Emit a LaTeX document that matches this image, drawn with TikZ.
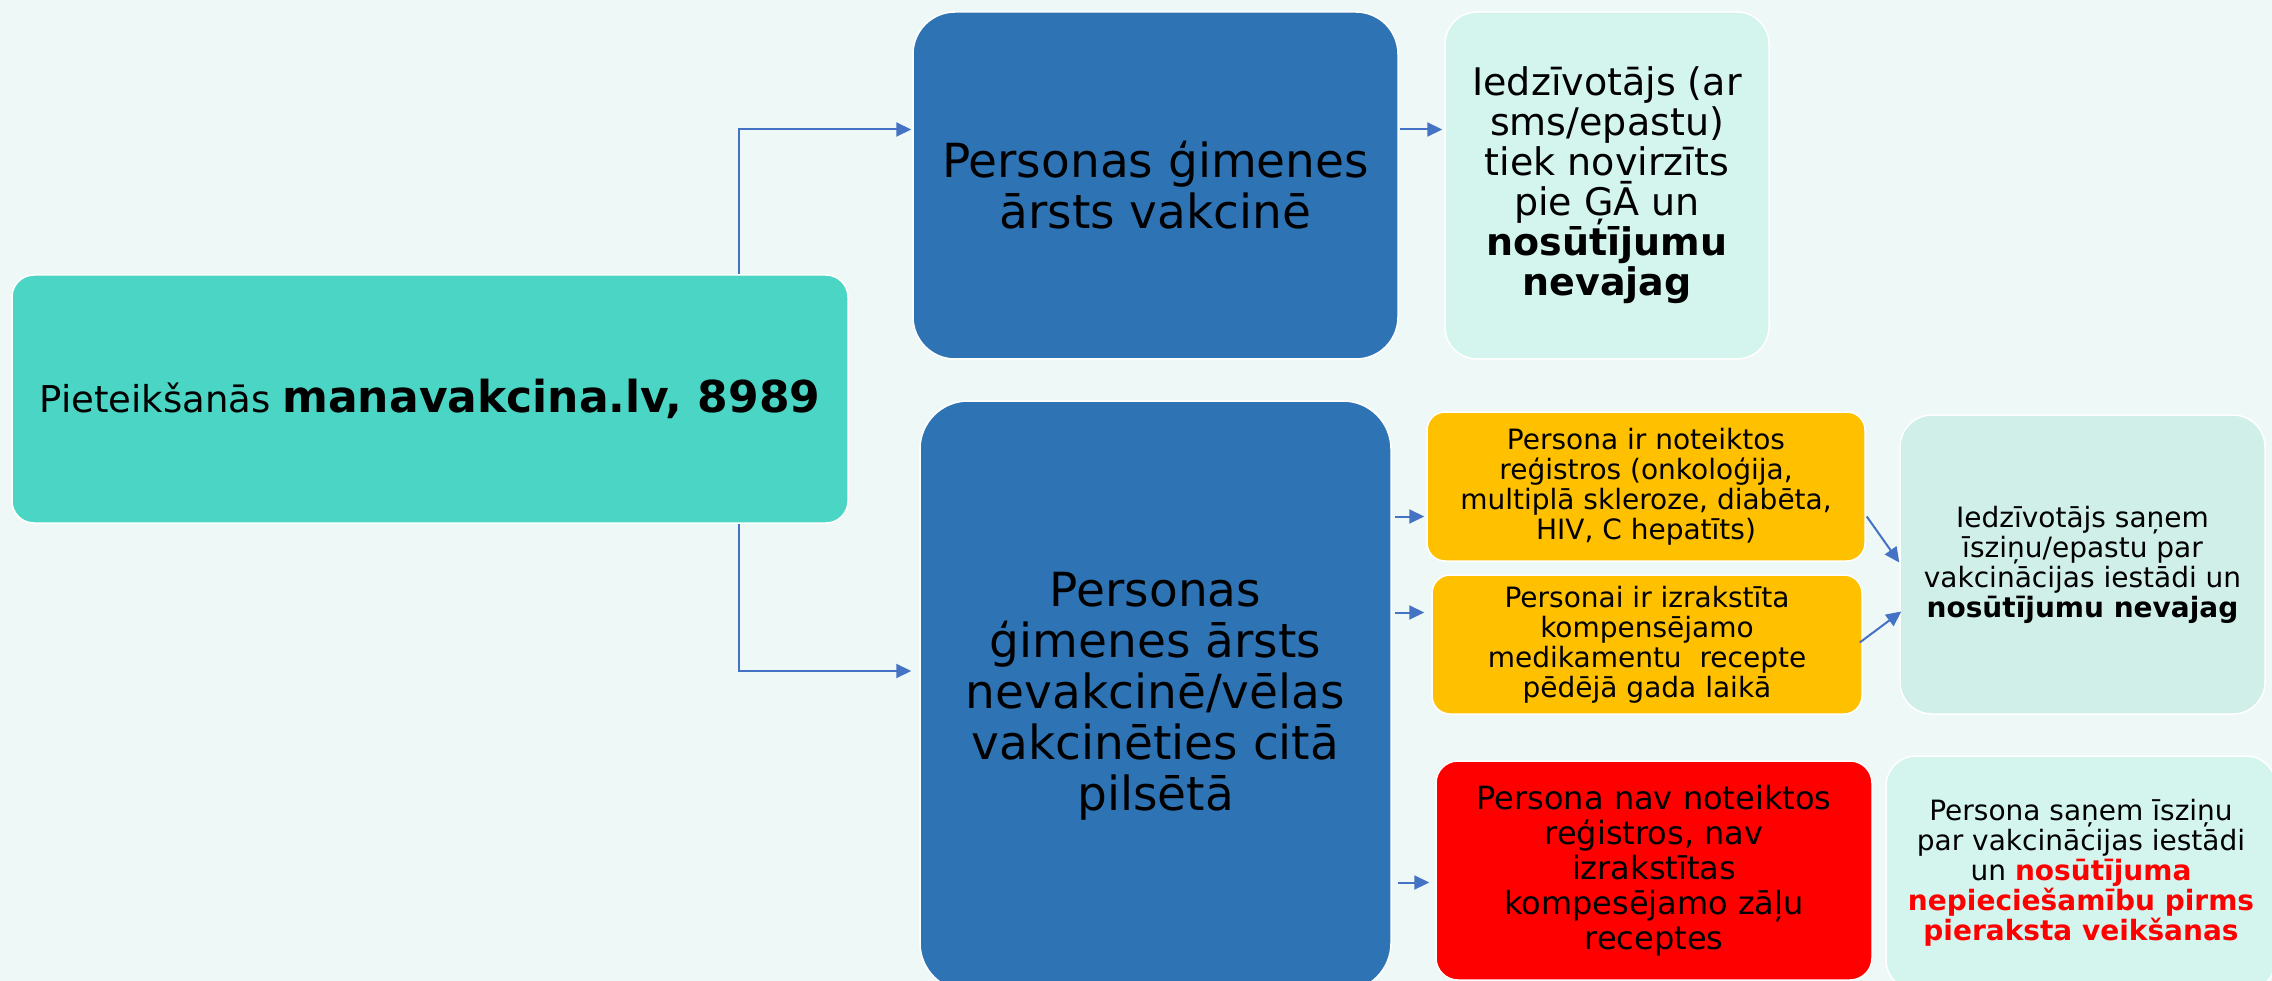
\documentclass[tikz,border=0pt]{standalone}
\usepackage{fontspec}
\setmainfont{DejaVu Sans}
\usetikzlibrary{arrows.meta,calc}
\definecolor{bgc}{HTML}{EEF8F6}
\definecolor{tealc}{HTML}{4AD5C5}
\definecolor{bluec}{HTML}{2E74B5}
\definecolor{mintc}{HTML}{D4F5EE}
\definecolor{mintd}{HTML}{D0EFE8}
\definecolor{yellowc}{HTML}{FFC000}
\definecolor{redc}{HTML}{FF0000}
\definecolor{arrowc}{HTML}{4472C4}
\begin{document}
\begin{tikzpicture}[x=1pt,y=-1pt,
  box/.style={draw=white,line width=1.5pt,align=center,inner sep=0pt,text=black},
  arr/.style={draw=arrowc,line width=2pt,-{Triangle[length=15pt,width=14pt]}},
  fbig/.style={font=\fontsize{47}{51}\selectfont},
  fmid/.style={font=\fontsize{38}{40}\selectfont},
  fred/.style={font=\fontsize{32}{35}\selectfont},
  fsmall/.style={font=\fontsize{28}{30}\selectfont}]
\useasboundingbox (0,0) rectangle (2272,981);
\clip (0,0) rectangle (2272,981);
\fill[bgc] (0,0) rectangle (2272,981);

\node[box,fill=tealc,rounded corners=22pt,minimum width=836pt,minimum height=248pt] (a) at (430,399)
  {\fontsize{37}{40}\selectfont Pieteikšanās {\fontsize{44}{48}\selectfont\bfseries manavakcina.lv, 8989}};
\node[box,fill=bluec,rounded corners=42pt,minimum width=485pt,minimum height=347pt,fbig] (b) at (1155.5,185.5)
  {Personas ģimenes\\ārsts vakcinē};
\node[box,fill=mintc,rounded corners=32pt,minimum width=324pt,minimum height=347pt,fmid] (c) at (1607,185.5)
  {Iedzīvotājs (ar\\sms/epastu)\\tiek novirzīts\\pie ĢĀ un\\\textbf{nosūtījumu}\\\textbf{nevajag}};
\node[box,fill=bluec,rounded corners=48pt,minimum width=471pt,minimum height=590pt,fbig] (d) at (1155.5,696)
  {Personas\\ģimenes ārsts\\nevakcinē/vēlas\\vakcinēties citā\\pilsētā};
\node[box,fill=yellowc,rounded corners=18pt,minimum width=438pt,minimum height=149pt,fsmall] (e) at (1646,486.5)
  {Persona ir noteiktos\\reģistros (onkoloģija,\\multiplā skleroze, diabēta,\\HIV, C hepatīts)};
\node[box,fill=yellowc,rounded corners=18pt,minimum width=430pt,minimum height=139pt,fsmall] (f) at (1647,644.5)
  {Personai ir izrakstīta\\kompensējamo\\medikamentu\ \ recepte\\pēdējā gada laikā};
\node[box,fill=mintd,rounded corners=32pt,minimum width=365pt,minimum height=299pt,fsmall] (g) at (2082.5,564.5)
  {Iedzīvotājs saņem\\īsziņu/epastu par\\vakcinācijas iestādi un\\\textbf{nosūtījumu nevajag}};
\node[box,fill=redc,rounded corners=22pt,minimum width=436pt,minimum height=219pt,fred] (h) at (1654,870.5)
  {Persona nav noteiktos\\reģistros, nav\\izrakstītas\\kompesējamo zāļu\\receptes};
\node[box,fill=mintc,rounded corners=30pt,minimum width=390pt,minimum height=234pt,fsmall] (k) at (2081,873)
  {Persona saņem īsziņu\\par vakcinācijas iestādi\\un \textcolor{redc}{\textbf{nosūtījuma}}\\\textcolor{redc}{\textbf{nepieciešamību pirms}}\\\textcolor{redc}{\textbf{pieraksta veikšanas}}};

\draw[arr] ($(a.north)+(309,0)$) |- ($(b.west)+(-1,-56)$);
\draw[arr] ($(a.south)+(309,0)$) |- ($(d.west)+(-8,-25)$);
\draw[arr] ($(b.east)+(1,-56)$) -- ($(c.west)+(-2,-56)$);
\draw[arr] ($(d.east |- e.west)+(3,30)$) -- ($(e.west)+(-2,30)$);
\draw[arr] ($(d.east |- f.west)+(3,-32)$) -- ($(f.west)+(-7,-32)$);
\draw[arr] ($(d.east |- h.west)+(6,12)$) -- ($(h.west)+(-6,12)$);
\draw[arr] ($(e.east)+(1,30)$) -- ($(g.west)+(0,-2)$);
\draw[arr] ($(f.east)+(-3,-2)$) -- ($(g.west)+(2,47)$);
\end{tikzpicture}
\end{document}
